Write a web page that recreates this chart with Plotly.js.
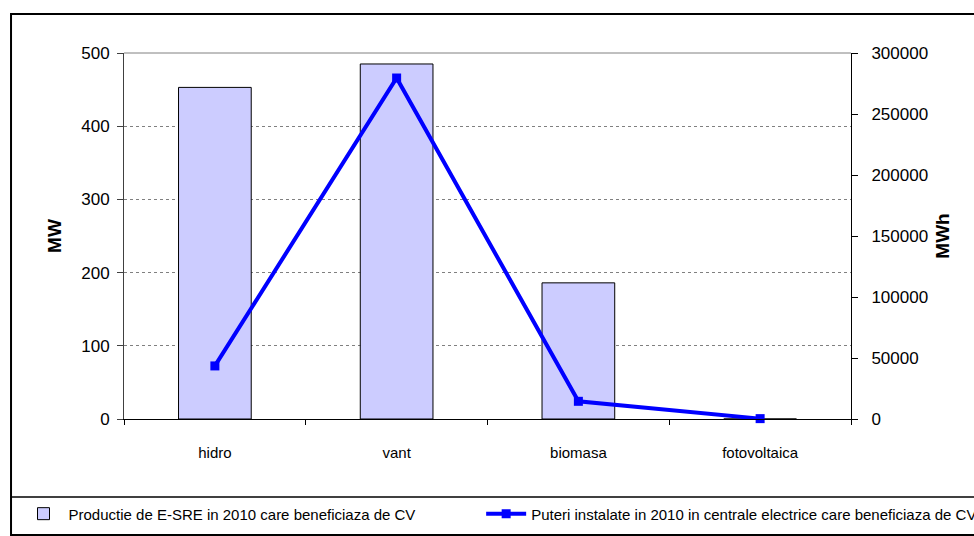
<!DOCTYPE html>
<html>
<head>
<meta charset="utf-8">
<script src="https://cdn.plot.ly/plotly-3.0.1.min.js"></script>
<style>html,body{margin:0;padding:0;background:#fff;}#chart{width:974px;height:536px;}</style>
</head>
<body>
<div id="chart"></div>
<script>
const categories = ['hidro', 'vant', 'biomasa', 'fotovoltaica'];
const productieMW = [453, 485, 186, 0];
const puteriMWh = [43500, 279500, 14500, 300];
const leftTicks = [0, 100, 200, 300, 400, 500];
const rightTicks = [0, 50000, 100000, 150000, 200000, 250000, 300000];
const barName = 'Productie de E-SRE in 2010 care beneficiaza de CV';
const lineName = 'Puteri instalate in 2010 in centrale electrice care beneficiaza de CV';

const FONT = 'Liberation Sans, Arial, sans-serif';

const traces = [
  {
    type: 'bar', x: categories, y: productieMW, name: barName, yaxis: 'y',
    width: 0.4, legend: 'legend',
    marker: {color: '#ccccff', line: {color: '#000000', width: 1}}
  },
  {
    type: 'scatter', mode: 'lines+markers', x: categories, y: puteriMWh, name: lineName, yaxis: 'y2',
    legend: 'legend2',
    line: {color: '#0000ff', width: 4},
    marker: {symbol: 'square', size: 9, color: '#0000ff'},
    cliponaxis: false
  }
];

const legendCommon = {
  orientation: 'h', xanchor: 'left', yanchor: 'top',
  xref: 'container', yref: 'container',
  font: {family: FONT, size: 15},
  bgcolor: 'rgba(0,0,0,0)', borderwidth: 0,
  itemwidth: 40
};

const layout = {
  width: 974, height: 536,
  margin: {l: 124, r: 123, t: 53, b: 117, pad: 0},
  paper_bgcolor: '#ffffff', plot_bgcolor: '#ffffff',
  font: {family: FONT, size: 15, color: '#000000'},
  showlegend: true,
  bargap: 0.6,
  xaxis: {
    type: 'category', categoryorder: 'array', categoryarray: categories,
    range: [-0.5, 3.5], automargin: false,
    showline: true, linecolor: '#000000', linewidth: 1,
    ticks: 'outside', ticklen: 5, tickcolor: '#000000', tickson: 'boundaries',
    ticklabelstandoff: 20,
    showgrid: false, zeroline: false,
    tickfont: {family: FONT, size: 15}
  },
  yaxis: {
    range: [0, 500], tickvals: leftTicks, automargin: false,
    showline: true, linecolor: '#404040', linewidth: 1,
    ticks: 'outside', ticklen: 6, tickcolor: '#404040',
    ticklabelstandoff: 4,
    showgrid: true, gridcolor: '#808080', gridwidth: 1, griddash: 'dot',
    zeroline: false,
    tickfont: {family: FONT, size: 17},
    title: {text: '<b>MW</b>', font: {family: FONT, size: 19}, standoff: 14}
  },
  yaxis2: {
    overlaying: 'y', side: 'right', automargin: false,
    range: [0, 300000], tickvals: rightTicks, tickformat: 'd',
    showline: true, linecolor: '#000000', linewidth: 1,
    ticks: 'outside', ticklen: 6, tickcolor: '#000000',
    ticklabelstandoff: 10,
    showgrid: false, zeroline: false,
    tickfont: {family: FONT, size: 17},
    title: {text: '<b>MWh</b>', font: {family: FONT, size: 19}, standoff: 8}
  },
  legend: Object.assign({}, legendCommon, {x: 0.019, y: 0.072}),
  legend2: Object.assign({}, legendCommon, {x: 0.494, y: 0.072}),
  shapes: [
    {type: 'rect', xref: 'paper', yref: 'paper', x0: -0.1554, x1: 1.25, y0: -0.3169, y1: 1.1066,
     line: {color: '#000000', width: 2}, fillcolor: 'rgba(0,0,0,0)', layer: 'below'},
    {type: 'line', xref: 'paper', yref: 'paper', x0: -0.1554, x1: 1.25, y0: -0.2131, y1: -0.2131,
     line: {color: '#000000', width: 1.5}},
    {type: 'line', xref: 'paper', yref: 'paper', x0: 0, x1: 1, y0: 1, y1: 1,
     line: {color: '#808080', width: 1}}
  ]
};

Plotly.newPlot('chart', traces, layout, {displayModeBar: false, staticPlot: true});
</script>
</body>
</html>
